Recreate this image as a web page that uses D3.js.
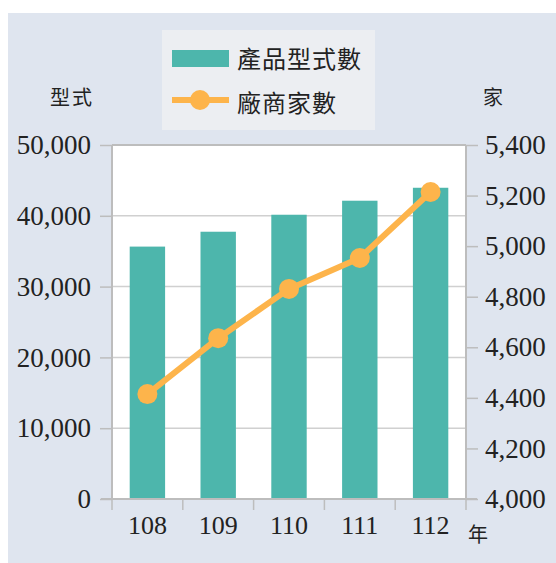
<!DOCTYPE html>
<html><head><meta charset="utf-8">
<script src="https://cdn.jsdelivr.net/npm/d3@7"></script>
<style>
html,body{margin:0;padding:0;background:#fff;}
svg{display:block;}
</style></head>
<body>
<script>
const years = ["108","109","110","111","112"];
const productModels = [35650, 37750, 40150, 42130, 43960];
const vendors = [4415, 4636, 4831, 4953, 5214];
const leftTicks = [0,10000,20000,30000,40000,50000];
const rightTicks = [4000,4200,4400,4600,4800,5000,5200,5400];
const seriesNames = ["產品型式數","廠商家數"];

const W=556,H=563;
const plot={l:112,r:466,t:145,b:499};
const barColor="#4db6ac", lineColor="#fdb44b";
const serif='"Liberation Serif","Times New Roman",serif';
const cjk='"Noto Sans CJK TC","Noto Sans CJK SC",sans-serif';
const axisColor="#bdbdbd", gridColor="#d0d0d0", textColor="#222";

const svg=d3.select("body").append("svg").attr("width",W).attr("height",H);
svg.append("rect").attr("x",8).attr("y",13).attr("width",W-8).attr("height",H-13).attr("fill","#dfe5ef");
svg.append("rect").attr("x",plot.l).attr("y",plot.t).attr("width",plot.r-plot.l).attr("height",plot.b-plot.t).attr("fill","#fff");

const x=d3.scaleBand().domain(years).range([plot.l,plot.r]).paddingInner(0.5).paddingOuter(0.25);
const yL=d3.scaleLinear().domain([0,50000]).range([plot.b,plot.t]);
const yR=d3.scaleLinear().domain([4000,5400]).range([plot.b,plot.t]);

// gridlines
svg.append("g").selectAll("line").data(leftTicks.slice(1)).join("line")
  .attr("x1",plot.l).attr("x2",plot.r).attr("y1",d=>yL(d)).attr("y2",d=>yL(d))
  .attr("stroke",(d,i)=>d===50000?axisColor:gridColor).attr("stroke-width",d=>d===50000?2:1.5);

// bars
svg.append("g").selectAll("rect").data(years).join("rect")
  .attr("x",d=>x(d)).attr("width",x.bandwidth())
  .attr("y",(d,i)=>yL(productModels[i])).attr("height",(d,i)=>plot.b-yL(productModels[i]))
  .attr("fill",barColor);

// left axis
const gL=svg.append("g").attr("transform",`translate(${plot.l},0)`)
  .call(d3.axisLeft(yL).tickValues(leftTicks).tickFormat(d3.format(",")).tickSize(12).tickPadding(9));
// right axis
const gR=svg.append("g").attr("transform",`translate(${plot.r},0)`)
  .call(d3.axisRight(yR).tickValues(rightTicks).tickFormat(d3.format(",")).tickSize(12).tickPadding(7));
[gL,gR].forEach(g=>{
  g.select(".domain").attr("stroke",axisColor).attr("stroke-width",2).attr("d",`M0,${plot.t}V${plot.b}`);
  g.selectAll(".tick line").attr("stroke",axisColor).attr("stroke-width",1.5);
  g.selectAll("text").attr("font-family",serif).attr("font-size",27).attr("fill",textColor);
});

// x axis
const step=x.step(), half=(step-x.bandwidth())/2;
const bounds=years.map(d=>x(d)-half).concat([x(years[years.length-1])+x.bandwidth()+half]);
svg.append("line").attr("x1",plot.l-11).attr("x2",plot.r+11).attr("y1",plot.b).attr("y2",plot.b)
  .attr("stroke",axisColor).attr("stroke-width",2);
svg.append("g").selectAll("line").data(bounds).join("line")
  .attr("x1",d=>d).attr("x2",d=>d).attr("y1",plot.b).attr("y2",plot.b+11)
  .attr("stroke",axisColor).attr("stroke-width",1.5);
const gX=svg.append("g").attr("transform",`translate(0,${plot.b})`)
  .call(d3.axisBottom(x).tickSize(0).tickPadding(17));
gX.select(".domain").remove();
gX.selectAll("text").attr("font-family",serif).attr("font-size",26).attr("fill",textColor);

// line
const line=d3.line().x((d,i)=>x(years[i])+x.bandwidth()/2).y(d=>yR(d));
svg.append("path").datum(vendors).attr("d",line).attr("fill","none")
  .attr("stroke",lineColor).attr("stroke-width",6).attr("stroke-linejoin","round");
svg.append("g").selectAll("circle").data(vendors).join("circle")
  .attr("cx",(d,i)=>x(years[i])+x.bandwidth()/2).attr("cy",d=>yR(d)).attr("r",10).attr("fill",lineColor);

// axis titles
svg.append("text").attr("x",72).attr("y",105).attr("text-anchor","middle")
  .attr("font-family",cjk).attr("font-size",20).attr("letter-spacing",2).attr("fill",textColor).text("型式");
svg.append("text").attr("x",493).attr("y",105).attr("text-anchor","middle")
  .attr("font-family",cjk).attr("font-size",20).attr("fill",textColor).text("家");
svg.append("text").attr("x",478).attr("y",542).attr("text-anchor","middle")
  .attr("font-family",cjk).attr("font-size",20).attr("fill",textColor).text("年");

// legend
const lg=svg.append("g");
lg.append("rect").attr("x",162).attr("y",30).attr("width",213).attr("height",100).attr("fill","#eceef2");
lg.append("rect").attr("x",172).attr("y",50).attr("width",57).attr("height",17).attr("fill",barColor);
lg.append("line").attr("x1",172).attr("x2",229).attr("y1",100).attr("y2",100).attr("stroke",lineColor).attr("stroke-width",6);
lg.append("circle").attr("cx",200).attr("cy",100).attr("r",10).attr("fill",lineColor);
lg.selectAll("text").data(seriesNames).join("text")
  .attr("x",237).attr("y",(d,i)=>i===0?68:112)
  .attr("font-family",cjk).attr("font-size",24).attr("letter-spacing",1).attr("fill",textColor).text(d=>d);
</script>
</body></html>
